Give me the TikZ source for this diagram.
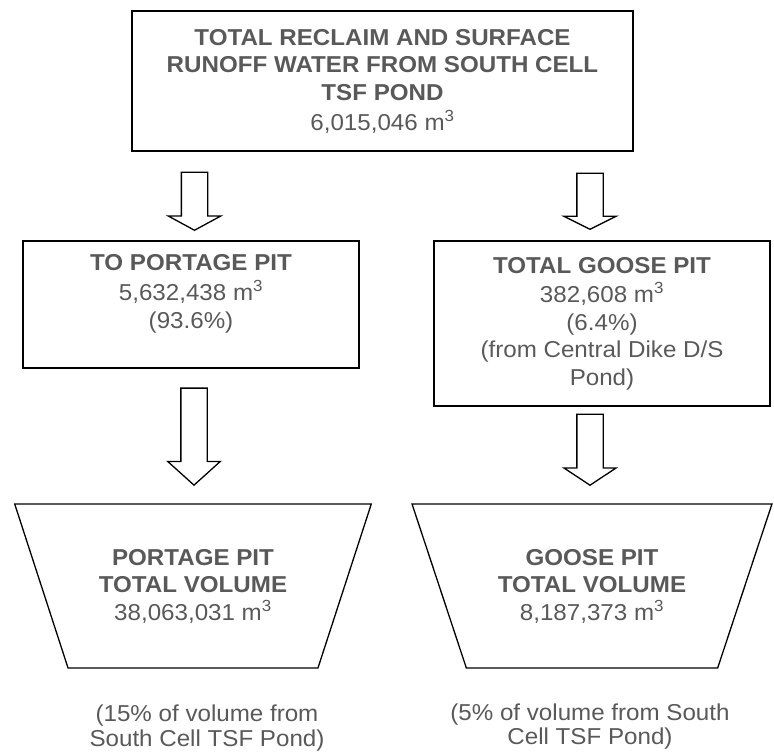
\documentclass[tikz,border=0pt]{standalone}
\usepackage{fontspec}
\setmainfont[FakeStretch=1.05]{Liberation Sans}
\usepackage{xcolor}
\usepackage{tikz}
\usetikzlibrary{shapes.geometric,shapes.arrows}
\definecolor{txtgray}{RGB}{89,89,89}

\begin{document}
\begin{tikzpicture}[
  x=1pt,y=-1pt,
  every node/.style={text=txtgray,font=\fontsize{23}{27.5}\selectfont},
  box/.style={draw=black,line width=2pt,align=center,inner sep=0pt},
  flowarr/.style={draw=black,line width=1.3pt,single arrow,shape border rotate=270,single arrow head extend=13pt,single arrow head indent=0pt,inner xsep=12.5pt,inner ysep=0pt,anchor=tip},
  pit/.style={draw=black,line width=1.3pt,trapezium,shape border rotate=180,trapezium stretches=true,minimum height=164pt,align=center,inner sep=0pt},
  note/.style={align=center,anchor=north,inner sep=0pt,font=\fontsize{23}{24.5}\selectfont}
]
\useasboundingbox (0,0) rectangle (774,752);

\node[box,minimum width=501pt,minimum height=140pt] (src) at (382.5,81) {\textbf{TOTAL RECLAIM AND SURFACE}\\\textbf{RUNOFF WATER FROM SOUTH CELL}\\\textbf{TSF POND}\\[2.5pt]6,015,046 m\textsuperscript{3}};
\node[box,minimum width=336pt,minimum height=127pt] (toport) at (191,304.5) {\textbf{TO PORTAGE PIT}\\[2.5pt]5,632,438 m\textsuperscript{3}\\(93.6\%)\rule[-26pt]{0pt}{0pt}};
\node[box,minimum width=336pt,minimum height=165pt] (togoose) at (602,323.5) {\textbf{TOTAL GOOSE PIT}\\[2pt]382,608 m\textsuperscript{3}\\(6.4\%)\\(from Central Dike D/S\\Pond)};

\node[flowarr,minimum height=58pt,single arrow tip angle=123] (a1) at (194.5,231) {};
\node[flowarr,minimum height=56pt,single arrow tip angle=127] (a2) at (590,230) {};
\node[flowarr,minimum height=97pt,single arrow tip angle=96] (a3) at (194,486) {};
\node[flowarr,minimum height=71pt,single arrow tip angle=113] (a4) at (590,486) {};

\node[pit,minimum width=358pt,trapezium angle=61.5] (pport) at (193,586) {\textbf{PORTAGE PIT}\\\textbf{TOTAL VOLUME}\\38,063,031 m\textsuperscript{3}};
\node[pit,minimum width=360pt,trapezium angle=61.2] (pgoose) at (592,586) {\textbf{GOOSE PIT}\\\textbf{TOTAL VOLUME}\\8,187,373 m\textsuperscript{3}};

\node[note] (pnote) at (207,705) {(15\% of volume from\\South Cell TSF Pond)};
\node[note] (gnote) at (590,703.5) {(5\% of volume from South\\Cell TSF Pond)};
\end{tikzpicture}
\end{document}
